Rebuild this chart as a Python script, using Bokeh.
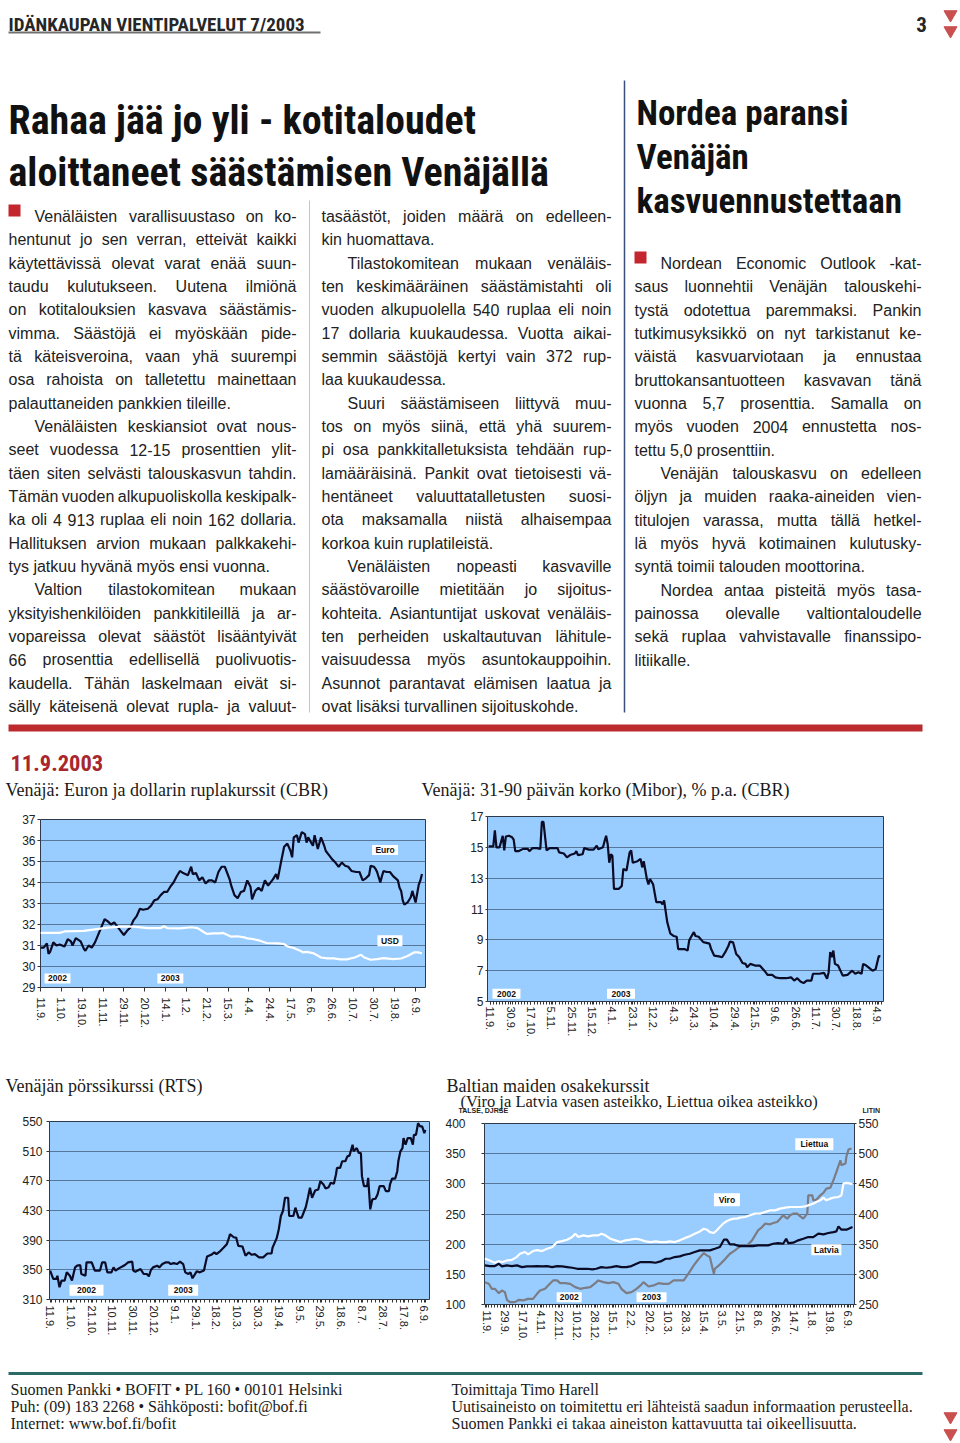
from bokeh.plotting import figure
from bokeh.models import Range1d, LinearAxis, FixedTicker, ColumnDataSource
from bokeh.layouts import column, row
from bokeh.embed import file_html
from bokeh.resources import INLINE
from bokeh.core.properties import value

# ======================= DATA =======================
c1_tick_labels = ["11.9.", "1.10.", "19.10.", "11.11.", "29.11.", "20.12.", "14.1.", "1.2.", "21.2.",
                  "15.3.", "4.4.", "24.4.", "17.5.", "6.6.", "26.6.", "10.7.", "30.7.", "19.8.", "6.9."]
c1_yticks = [29, 30, 31, 32, 33, 34, 35, 36, 37]
euro_day = [0, 2, 4, 5, 6, 8, 10, 12, 15, 17,
            19, 20, 22, 25, 27, 28, 30, 32, 34, 37,
            40, 42, 44, 46, 48, 50, 52, 54, 56, 58,
            60, 62, 64, 67, 69, 71, 73, 75, 77, 79,
            81, 83, 85, 87, 89, 92, 94, 95, 97, 99,
            101, 103, 105, 107, 109, 111, 113, 115, 118, 119,
            121, 123, 125, 127, 129, 131, 132, 134, 136, 138,
            140, 142, 145, 147, 148, 150, 152, 154, 156, 157,
            158, 160, 161, 163, 165, 166, 167, 170, 171, 173,
            175, 177, 178, 180, 182, 184, 186, 188, 190, 192,
            194, 197, 199, 201, 203, 205, 206, 208, 209, 210,
            212, 213, 214, 216, 218, 220, 223, 224, 225, 226,
            227, 229, 231, 232, 234, 236, 237, 238]
euro_rub = [30.9, 30.9, 31.1, 30.6, 30.7, 31.15, 31.0, 31.05, 30.95, 31.3,
            31.2, 31.0, 31.35, 31.2, 30.85, 30.75, 31.0, 30.9, 31.15, 31.7,
            32.25, 32.15, 32.0, 32.1, 31.9, 31.7, 31.5, 31.7, 31.85, 32.2,
            32.4, 32.75, 32.7, 32.75, 32.9, 33.15, 33.2, 33.4, 33.55, 33.55,
            33.8, 34.0, 34.3, 34.55, 34.45, 34.35, 34.75, 34.4, 34.45, 34.1,
            34.25, 33.95, 34.1, 34.1, 34.0, 34.5, 34.75, 34.75, 34.15, 33.85,
            33.4, 33.25, 33.55, 33.6, 34.1, 33.8, 33.2, 33.6, 33.75, 33.6,
            34.1, 33.85, 34.15, 34.4, 34.15, 34.95, 35.7, 35.85, 35.5, 35.2,
            36.15, 36.25, 35.9, 36.4, 36.3, 35.9, 36.15, 35.75, 36.25, 35.6,
            36.15, 35.75, 35.5, 35.3, 35.1, 34.95, 34.75, 34.95, 34.8, 34.75,
            34.55, 34.5, 34.5, 34.1, 34.2, 34.35, 34.8, 34.75, 34.65, 34.5,
            34.0, 34.3, 34.55, 34.5, 34.5, 34.3, 34.1, 33.75, 33.6, 33.15,
            32.95, 33.05, 33.3, 33.6, 33.05, 33.9, 34.1, 34.4]
usd_day = [0, 12, 15, 27, 35, 42, 50, 58, 67, 75,
           77, 79, 87, 94, 98, 102, 104, 108, 112, 114,
           119, 123, 127, 129, 133, 137, 141, 148, 152, 154,
           158, 162, 164, 166, 170, 172, 175, 179, 183, 187,
           191, 196, 200, 202, 206, 210, 214, 220, 225, 229,
           233, 236, 238]
usd_rub = [31.6, 31.6, 31.67, 31.7, 31.78, 31.85, 31.9, 31.9, 31.83, 31.83,
           31.92, 31.83, 31.82, 31.87, 31.83, 31.63, 31.55, 31.58, 31.58, 31.6,
           31.42, 31.44, 31.39, 31.34, 31.3, 31.23, 31.12, 31.1, 31.07, 30.96,
           30.88, 30.75, 30.67, 30.7, 30.64, 30.56, 30.43, 30.39, 30.39, 30.34,
           30.34, 30.43, 30.56, 30.43, 30.32, 30.35, 30.4, 30.35, 30.38, 30.5,
           30.67, 30.67, 30.62]
c1_tag_text = ["Euro", "USD", "2002", "2003"]
c1_tag_x = [215, 218, 10.6, 81]
c1_tag_y = [35.55, 31.23, 29.43, 29.43]

c2_tick_labels = ["11.9.", "30.9.", "17.10.", "5.11.", "25.11.", "15.12.", "4.1.", "23.1.", "12.2.", "4.3.",
                  "24.3.", "10.4.", "29.4.", "21.5.", "9.6.", "26.6.", "11.7.", "30.7.", "18.8.", "4.9."]
c2_yticks = [5, 7, 9, 11, 13, 15, 17]
mibor_day = [-1, 2, 3, 4, 6, 8, 9, 10, 12, 14,
             15, 16, 18, 21, 24, 25, 27, 30, 32, 33,
             34, 36, 38, 43, 44, 47, 49, 51, 54, 55,
             56, 59, 60, 63, 66, 68, 69, 72, 73, 74,
             75, 76, 77, 78, 79, 82, 84, 85, 87, 89,
             90, 91, 94, 96, 97, 98, 100, 101, 102, 104,
             106, 109, 110, 111, 113, 115, 117, 119, 120, 124,
             126, 127, 128, 130, 131, 133, 136, 140, 141, 143,
             146, 148, 150, 152, 153, 155, 157, 159, 161, 163,
             164, 166, 169, 172, 175, 177, 180, 182, 185, 189,
             192, 194, 196, 198, 200, 202, 205, 206, 210, 213,
             215, 216, 217, 218, 219, 220, 222, 225, 228, 231,
             233, 235, 237, 238, 240, 244, 246, 248, 249]
mibor_pct = [15.06, 15.06, 16.1, 15.0, 15.0, 15.75, 14.8, 15.7, 15.75, 15.65,
             15.5, 14.75, 14.75, 14.9, 14.9, 14.75, 14.95, 14.95, 14.9, 16.65,
             16.65, 14.8, 14.95, 14.95, 14.67, 14.6, 14.35, 14.5, 14.6, 14.75,
             14.5, 14.55, 14.95, 14.85, 14.85, 15.1, 14.88, 15.0, 15.4, 15.75,
             15.2, 14.0, 14.55, 14.45, 12.3, 12.3, 12.5, 13.6, 13.5, 14.67,
             14.8, 14.0, 14.1, 14.25, 13.7, 14.1, 12.95, 12.6, 12.95, 12.6,
             11.45, 11.45, 11.3, 11.55, 10.15, 9.4, 9.25, 9.2, 8.4, 8.4,
             8.3, 8.95, 9.15, 9.5, 9.25, 9.2, 8.85, 8.75, 8.4, 7.97,
             7.93, 7.87, 8.2, 8.6, 8.88, 8.84, 8.08, 7.87, 7.5, 7.44,
             7.22, 7.44, 7.33, 7.33, 7.0, 6.73, 6.73, 6.57, 6.51, 6.51,
             6.57, 6.36, 6.51, 6.3, 6.19, 6.36, 6.36, 6.8, 6.8, 6.86,
             6.47, 6.9, 8.2, 7.87, 8.3, 7.44, 7.33, 6.68, 6.73, 7.0,
             6.8, 6.9, 6.8, 7.44, 7.33, 7.0, 7.1, 7.95, 7.93]
c2_tag_text = ["2002", "2003"]
c2_tag_x = [10.4, 83.5]
c2_tag_y = [5.5, 5.5]

c3_tick_labels = ["11.9.", "1.10.", "21.10.", "10.11.", "30.11.", "20.12.", "9.1.", "29.1.", "18.2.", "10.3.",
                  "30.3.", "19.4.", "9.5.", "29.5.", "18.6.", "8.7.", "28.7.", "17.8.", "6.9."]
c3_yticks = [310, 350, 390, 430, 470, 510, 550]
rts_day = [0, 3, 6, 7, 9, 11, 14, 16, 19, 21,
           24, 26, 29, 30, 34, 35, 40, 43, 48, 50,
           53, 55, 59, 61, 63, 66, 69, 72, 75, 79,
           80, 82, 87, 90, 93, 95, 97, 99, 103, 105,
           108, 111, 114, 116, 119, 122, 125, 128, 130, 133,
           135, 137, 141, 144, 148, 149, 151, 155, 158, 160,
           164, 167, 170, 172, 173, 177, 179, 181, 185, 188,
           191, 194, 197, 201, 205, 209, 213, 214, 218, 220,
           222, 224, 226, 229, 230, 234, 236, 239, 242, 246,
           248, 250, 252, 255, 258, 260, 263, 265, 268, 270,
           273, 275, 276, 279, 281, 284, 286, 288, 291, 292,
           295, 297, 299, 300, 302, 305, 306, 308, 310, 313,
           315, 317, 321, 323, 326, 327, 329, 332, 334, 335,
           337, 339, 340, 342, 344, 347, 349, 350, 352, 354,
           356, 358, 360, 361]
rts_index = [349, 337.7, 337.7, 342, 326.5, 335.5, 335.5, 346.6, 342, 335.5,
             353.3, 355.6, 356.5, 344.4, 342, 360, 360, 349, 349, 360,
             360, 346.6, 346.6, 353.3, 349, 352, 354.2, 356.5, 360, 361,
             349, 347.5, 351, 344.4, 344.4, 341.3, 349.8, 353.3, 355.6, 353.3,
             357.8, 360, 360, 357.8, 359, 357.8, 361, 357.8, 346.6, 344.4,
             346.6, 338.6, 348, 346.6, 349, 355.6, 368, 370.3, 373.5, 371.2,
             375.7, 380, 384.6, 392.7, 398, 393.6, 393.6, 382.4, 381.5, 369,
             373.5, 370.3, 371.2, 366.8, 366.8, 372, 372, 380, 392.7, 404.7,
             422.6, 429.3, 447.2, 447.2, 422.6, 422.6, 433.8, 420.4, 420.4, 434.7,
             447.2, 460.6, 447.2, 457, 458.4, 469.6, 465.1, 459.7, 461.5, 467.3,
             466, 478.5, 487.4, 487.4, 496.4, 496.4, 503, 504, 518.7, 509.8,
             514.2, 507.5, 507.5, 476.3, 462.8, 462.8, 474, 431.6, 445, 445.9,
             451.7, 462.8, 462.8, 456.1, 456.1, 465.1, 473.1, 473.1, 483, 496.4,
             509.8, 514.2, 527.6, 518.7, 527.6, 527.6, 518.7, 532.1, 532.1, 547.8,
             543.3, 543.3, 534.4, 538.8]
c3_tag_text = ["2002", "2003"]
c3_tag_x = [35, 128]
c3_tag_y = [322.5, 322.5]

c4_tick_labels = ["11.9.", "29.9.", "17.10.", "4.11.", "22.11.", "10.12.", "28.12.", "15.1.", "2.2.", "20.2.",
                  "10.3.", "28.3.", "15.4.", "3.5.", "21.5.", "8.6.", "26.6.", "14.7.", "1.8.", "19.8.", "6.9."]
c4_left_ticks = [100, 150, 200, 250, 300, 350, 400]
c4_right_ticks = [250, 300, 350, 400, 450, 500, 550]
viro_day = [-2, 3, 8, 12, 15, 20, 25, 30, 33, 38,
            41, 46, 50, 55, 60, 65, 70, 75, 80, 85,
            88, 91, 96, 101, 106, 111, 114, 118, 123, 128,
            133, 138, 143, 148, 153, 158, 163, 168, 173, 178,
            182, 187, 192, 197, 202, 207, 211, 216, 219, 222,
            226, 229, 232, 236, 239, 242, 246, 249, 252, 257,
            262, 267, 272, 277, 282, 287, 292, 297, 302, 307,
            312, 317, 322, 325, 328, 332, 335, 338, 342, 345,
            350, 353, 355, 358, 362, 364]
viro_val = [176, 173, 169, 172, 170, 173, 174, 179, 184, 187,
            183, 188.6, 190, 188.6, 192.4, 195, 203.5, 205, 207.4, 212,
            217.4, 212, 214.6, 213, 214.6, 214.6, 217.4, 214.6, 209, 206.3,
            203.5, 206.3, 207.4, 209, 207.4, 204.6, 203.5, 204.6, 203.5, 203.5,
            204.6, 203.5, 206.3, 210, 213, 217.4, 220, 225.6, 224, 220,
            218.5, 223, 228.4, 235, 238.4, 240.6, 242.3, 242.3, 244, 245,
            247.8, 250.6, 250.6, 253.3, 256, 256, 258.9, 260.5, 261.6, 261.6,
            261.6, 262.7, 265.5, 267.2, 270, 272.7, 277.1, 272.7, 275.5, 277.1,
            278.2, 281, 300.4, 301.5, 300.4, 299.3]
latvia_day = [-2, 3, 8, 12, 15, 20, 25, 30, 35, 40,
              45, 50, 55, 60, 65, 70, 75, 80, 85, 90,
              95, 100, 105, 109, 114, 119, 124, 129, 134, 139,
              144, 149, 153, 158, 163, 168, 173, 178, 182, 187,
              192, 197, 202, 207, 212, 217, 222, 227, 232, 236,
              239, 242, 246, 251, 255, 260, 265, 270, 275, 280,
              285, 290, 295, 298, 300, 305, 310, 315, 320, 325,
              330, 335, 340, 345, 348, 350, 353, 358, 364]
latvia_val = [164.8, 163.7, 163.7, 167.5, 163.1, 164.8, 163.7, 164.8, 162, 163.1,
              163.1, 163.7, 163.1, 163.7, 162, 163.7, 163.1, 162, 160.9, 159.2,
              159.2, 159.2, 158.1, 159.2, 162, 160.9, 162, 163.7, 162, 162,
              163.7, 167.5, 170.3, 170.3, 170.3, 169.2, 171.4, 175.8, 175.8, 178.6,
              179.7, 182.5, 184.1, 186.9, 189.7, 189.7, 189.7, 192.4, 195.2, 207.4,
              207.4, 199.6, 199.6, 196.9, 196.9, 196.9, 196.9, 198, 198, 198,
              200.7, 201.8, 200.7, 209, 201.8, 202.4, 206.3, 209, 211.8, 211.8,
              217.4, 216.2, 218.5, 220, 221.2, 229.5, 224, 224, 228.4]
liettua_day = [-2, 2, 5, 8, 12, 15, 18, 20, 23, 28,
               32, 36, 41, 46, 50, 53, 58, 61, 66, 70,
               73, 78, 83, 88, 93, 98, 103, 108, 111, 116,
               121, 126, 131, 134, 139, 144, 149, 153, 156, 161,
               166, 171, 176, 181, 186, 191, 196, 201, 206, 211,
               216, 219, 222, 226, 227, 231, 236, 239, 242, 247,
               251, 254, 257, 260, 264, 267, 270, 274, 277, 282,
               285, 289, 292, 295, 299, 302, 305, 309, 312, 315,
               319, 320, 324, 325, 328, 332, 335, 338, 342, 345,
               348, 352, 353, 357, 358, 360, 363]
liettua_val = [287, 284.3, 276, 276, 268.8, 273.3, 270.5, 257.8, 253.9, 253.9,
               257.8, 256.7, 259.4, 259.4, 267.7, 273.3, 276, 281.6, 289.9, 289.9,
               285.4, 285.4, 284.3, 278.8, 276, 277.7, 278.8, 285.4, 289.9, 287.1,
               285.4, 287.1, 284.3, 276, 268.8, 270.5, 276, 281.6, 287.1, 279.9,
               281.6, 285.4, 284.3, 284.3, 289.9, 289.9, 289.9, 302, 314.8, 325.8,
               335.2, 331.4, 328.6, 300.9, 309.2, 314.8, 323.1, 328.6, 334.1, 339.7,
               345.2, 347.9, 346.9, 349.6, 356.3, 364.6, 372.9, 378.4, 384, 382.9,
               385.1, 386.8, 392.3, 397.8, 392.3, 397.8, 400.6, 400.6, 396.1, 392.3,
               400.6, 431, 431, 422.7, 423.8, 431, 434.9, 442, 443.7, 455.9,
               469.7, 489.1, 480.8, 483.6, 495.8, 506.8, 508.5]
c4_tag_text = ["Liettua", "Viro", "Latvia", "2002", "2003"]
c4_tag_x = [326, 239, 338, 82, 164]
c4_tag_y = [365.7, 273.8, 190.8, 112, 112]

# ======================= PAGE TEXT =======================
header_text = "IDÄNKAUPAN VIENTIPALVELUT 7/2003"
page_number = "3"
headline = ["Rahaa jää jo yli - kotitaloudet", "aloittaneet säästämisen Venäjällä"]
side_headline = ["Nordea paransi", "Venäjän", "kasvuennustettaan"]
date_text = "11.9.2003"
col1 = ["Venäläisten varallisuustaso on ko-",
        "hentunut jo sen verran, etteivät kaikki",
        "käytettävissä olevat varat enää suun-",
        "taudu kulutukseen. Uutena ilmiönä",
        "on kotitalouksien kasvava säästämis-",
        "vimma. Säästöjä ei myöskään pide-",
        "tä käteisveroina, vaan yhä suurempi",
        "osa rahoista on talletettu mainettaan",
        "palauttaneiden pankkien tileille.",
        "Venäläisten keskiansiot ovat nous-",
        "seet vuodessa 12-15 prosenttien ylit-",
        "täen siten selvästi talouskasvun tahdin.",
        "Tämän vuoden alkupuoliskolla keskipalk-",
        "ka oli 4 913 ruplaa eli noin 162 dollaria.",
        "Hallituksen arvion mukaan palkkakehi-",
        "tys jatkuu hyvänä myös ensi vuonna.",
        "Valtion tilastokomitean mukaan",
        "yksityishenkilöiden pankkitileillä ja ar-",
        "vopareissa olevat säästöt lisääntyivät",
        "66 prosenttia edellisellä puolivuotis-",
        "kaudella. Tähän laskelmaan eivät si-",
        "sälly käteisenä olevat rupla- ja valuut-"]
col2 = ["tasäästöt, joiden määrä on edelleen-",
        "kin huomattava.",
        "Tilastokomitean mukaan venäläis-",
        "ten keskimääräinen säästämistahti oli",
        "vuoden alkupuolella 540 ruplaa eli noin",
        "17 dollaria kuukaudessa. Vuotta aikai-",
        "semmin säästöjä kertyi vain 372 rup-",
        "laa kuukaudessa.",
        "Suuri säästämiseen liittyvä muu-",
        "tos on myös siinä, että yhä suurem-",
        "pi osa pankkitalletuksista tehdään rup-",
        "lamääräisinä. Pankit ovat tietoisesti vä-",
        "hentäneet valuuttatalletusten suosi-",
        "ota maksamalla niistä alhaisempaa",
        "korkoa kuin ruplatileistä.",
        "Venäläisten nopeasti kasvaville",
        "säästövaroille mietitään jo sijoitus-",
        "kohteita. Asiantuntijat uskovat venäläis-",
        "ten perheiden uskaltautuvan lähitule-",
        "vaisuudessa myös asuntokauppoihin.",
        "Asunnot parantavat elämisen laatua ja",
        "ovat lisäksi turvallinen sijoituskohde."]
col3 = ["Nordean Economic Outlook -kat-",
        "saus luonnehtii Venäjän talouskehi-",
        "tystä odotettua paremmaksi. Pankin",
        "tutkimusyksikkö on nyt tarkistanut ke-",
        "väistä kasvuarviotaan ja ennustaa",
        "bruttokansantuotteen kasvavan tänä",
        "vuonna 5,7 prosenttia. Samalla on",
        "myös vuoden 2004 ennustetta nos-",
        "tettu 5,0 prosenttiin.",
        "Venäjän talouskasvu on edelleen",
        "öljyn ja muiden raaka-aineiden vien-",
        "titulojen varassa, mutta tällä hetkel-",
        "lä myös hyvä kotimainen kulutusky-",
        "syntä toimii talouden moottorina.",
        "Nordea antaa pisteitä myös tasa-",
        "painossa olevalle valtiontaloudelle",
        "sekä ruplaa vahvistavalle finanssipo-",
        "litiikalle."]
chart_titles_top = ["Venäjä: Euron ja dollarin ruplakurssit  (CBR)",
                    "Venäjä: 31-90 päivän korko (Mibor), % p.a. (CBR)"]
chart_titles_bottom = ["Venäjän pörssikurssi (RTS)", "Baltian maiden osakekurssit",
                       "(Viro ja Latvia vasen asteikko, Liettua oikea asteikko)"]
axis_notes = ["TALSE, DJRSE", "LITIN"]
footer_left = ["Suomen Pankki • BOFIT • PL 160 • 00101 Helsinki",
               "Puh: (09) 183 2268 • Sähköposti: bofit@bof.fi",
               "Internet: www.bof.fi/bofit"]
footer_right = ["Toimittaja Timo Harell",
                "Uutisaineisto on toimitettu eri lähteistä saadun informaation perusteella.",
                "Suomen Pankki ei takaa aineiston kattavuutta tai oikeellisuutta."]

# ======================= STYLE =======================
SANS = "Liberation Sans"
SERIF = "Liberation Serif"
COND = "Roboto Condensed"
INK = "#222222"
RED = "#c4262e"
TRI = "#c9504f"
BG = "#99ccff"
GRID = "#56769a"
FRAME = "#2e3a4c"
LINE_H = 23.33
INDENT = 26

CHAR_W = {}
for chars, wdt in [(" !,./:;I[]\\ft", 278), ("ijl", 222), ("()-r", 333), ("cksvxyzJ", 500),
                   ("abdeghnopqu0123456789?$#_Lääööåüé", 556), ("+<=>", 584), ("FTZ", 611),
                   ("ABEKPSVXYÄ", 667), ("CDHNRUw", 722), ("GOQÖ", 778), ("Mm", 833),
                   ("%", 889), ("W", 944), ("@", 1015), ("'", 191), ('"', 355), ("•", 350)]:
    for ch in chars:
        CHAR_W[ch] = wdt


def tw(s, size):
    return sum(CHAR_W.get(c, 556) for c in s) * size / 1000.0


def page_fig(x0, y0, w, h):
    p = figure(width=w, height=h, x_range=Range1d(x0, x0 + w), y_range=Range1d(y0 + h, y0),
               x_axis_type=None, y_axis_type=None, output_backend="svg",
               toolbar_location=None, min_border=0, title=None)
    p.outline_line_color = None
    p.background_fill_color = "white"
    p.border_fill_color = "white"
    return p


def put_text(p, xs, ys, texts, size, font=SANS, style="normal", color=INK,
             align="left", baseline="alphabetic"):
    src = ColumnDataSource(dict(x=list(xs), y=list(ys), t=list(texts)))
    p.text(x="x", y="y", text="t", source=src, text_font=value(font),
           text_font_size=f"{size}px", text_font_style=style, text_color=color,
           text_align=align, text_baseline=baseline)


def justified(p, lines, x_left, x_right, indented, loose, y0, size=16):
    xs, ys, ts, fs = [], [], [], []
    sp1 = tw(" ", 1.0)
    for i, line in enumerate(lines):
        start = x_left + (INDENT if i in indented else 0)
        avail = x_right - start
        words = line.split()
        nat1 = sum(tw(w, 1.0) for w in words)
        n = len(words)
        f = size
        if i in loose or n == 1:
            gap = sp1 * f
        else:
            gap = (avail - nat1 * f) / (n - 1)
            if gap < 0.55 * sp1 * f:
                f = avail / (nat1 + 0.55 * sp1 * (n - 1))
                gap = 0.55 * sp1 * f
        x = start
        for w in words:
            xs.append(x)
            ys.append(y0 + LINE_H * i)
            ts.append(w)
            fs.append(f"{f:.2f}px")
            x += tw(w, f) + gap
    src = ColumnDataSource(dict(x=xs, y=ys, t=ts, fs=fs))
    p.text(x="x", y="y", text="t", source=src, text_font=value(SANS), text_font_size="fs",
           text_color=INK, text_align="left", text_baseline="alphabetic")


# ======================= TOP PAGE PART =======================
top = page_fig(0, 0, 960, 800)
put_text(top, [8], [24], [header_text], 19, font=COND, style="bold", color="#262626")
top.segment(x0=[8], y0=[32], x1=[320], y1=[32], line_color="#707070", line_width=2)
put_text(top, [921], [24], [page_number], 21, font=COND, style="bold", color="#262626", align="center")
top.scatter(x=[950, 950], y=[14, 30], marker="inverted_triangle", size=13, fill_color=TRI, line_color=TRI)

put_text(top, [8, 8], [120, 172], headline, 40, font=COND, style="bold", color="#111111")
put_text(top, [636, 636, 636], [113, 157, 201], side_headline, 35, font=COND, style="bold", color="#111111")

top.rect(x=[14, 640], y=[210, 257], width=12, height=12, fill_color=RED, line_color=None)
justified(top, col1, 8, 296, {0, 9, 16}, {8, 15}, 216)
justified(top, col2, 321, 611, {2, 8, 15}, {1, 7, 14, 21}, 216)
justified(top, col3, 634, 921, {0, 9, 14}, {8, 13, 17}, 263)

top.segment(x0=[309], y0=[200], x1=[309], y1=[712], line_color="#c4c4c4", line_width=1)
top.segment(x0=[624], y0=[80], x1=[624], y1=[712], line_color="#3a4f7c", line_width=1.5)
top.quad(left=[8], right=[922], top=[724], bottom=[731], fill_color="#bd2a2e", line_color=None)
put_text(top, [10], [762], [date_text], 22.5, font=COND, style="bold", color="#a8262c")
put_text(top, [5, 421], [789, 789], chart_titles_top, 18, font=SERIF, color="#1a1a1a")


# ======================= CHARTS =======================
def chart(x0, y0, w, h, fl, fr, ft, fb, xr, yr, labels, step, yticks, minor_step,
          ytick_out, ystand, xtick_out, xstand):
    p = figure(width=w, height=h, x_range=Range1d(*xr), y_range=Range1d(*yr),
               output_backend="svg", toolbar_location=None, title=None,
               min_border_left=fl - x0, min_border_right=x0 + w - fr,
               min_border_top=ft - y0, min_border_bottom=y0 + h - fb)
    p.background_fill_color = BG
    p.border_fill_color = "white"
    p.outline_line_color = FRAME
    p.outline_line_width = 1
    p.xgrid.visible = False
    p.ygrid.grid_line_color = GRID
    p.ygrid.grid_line_width = 1
    xt = [i * step for i in range(len(labels))]
    minor = []
    if minor_step:
        v = int(xr[0]) + 1
        while v < xr[1]:
            minor.append(v)
            v += minor_step
    p.xaxis.ticker = FixedTicker(ticks=xt, minor_ticks=minor)
    p.xaxis.major_label_overrides = {t: s for t, s in zip(xt, labels)}
    p.xaxis.major_label_orientation = "vertical"
    p.xaxis.major_label_text_font_size = "11px"
    p.xaxis.major_tick_in = 0
    p.xaxis.major_tick_out = xtick_out
    p.xaxis.minor_tick_in = 0
    p.xaxis.minor_tick_out = 3 if minor_step else 0
    p.xaxis.major_label_standoff = xstand
    p.yaxis.ticker = FixedTicker(ticks=yticks, minor_ticks=[])
    p.yaxis.major_label_text_font_size = "12px"
    p.yaxis.major_tick_in = 0
    p.yaxis.major_tick_out = ytick_out
    p.yaxis.major_label_standoff = ystand
    for ax in p.axis:
        ax.axis_line_color = None
        ax.major_tick_line_color = "#333333"
        ax.minor_tick_line_color = "#333333"
        ax.major_label_text_font = SANS
        ax.major_label_text_color = "#222222"
    return p


def tags(p, xs, ys, texts, ws, hs):
    src = ColumnDataSource(dict(x=xs, y=ys, t=texts, w=ws, h=hs))
    p.rect(x="x", y="y", width="w", height="h", width_units="screen", height_units="screen",
           source=src, fill_color="white", line_color=None)
    p.text(x="x", y="y", text="t", source=src, text_font=value(SANS), text_font_size="8.5px",
           text_font_style="bold", text_color="#111111", text_align="center", text_baseline="middle")


c1 = chart(0, 800, 440, 265, 40, 425, 819, 987, (0, 240.2), (29, 37), c1_tick_labels, 13,
           c1_yticks, None, 3, 2, 4, 6)
c1.line(euro_day, euro_rub, line_color="#0b0b26", line_width=2.2)
c1.line(usd_day, usd_rub, line_color="white", line_width=2.2)
tags(c1, c1_tag_x, c1_tag_y, c1_tag_text, [26, 25, 26, 26], [10, 11, 10, 10])

c2 = chart(440, 800, 520, 265, 487, 883, 816, 1001, (-1.7, 251), (5, 17), c2_tick_labels, 13,
           c2_yticks, 2, 2, 2, 3, 2)
c2.line(mibor_day, mibor_pct, line_color="#0b0b26", line_width=2.2)
tags(c2, c2_tag_x, c2_tag_y, c2_tag_text, [28, 28], [10, 10])

strip = page_fig(0, 1065, 960, 49)
put_text(strip, [5, 446], [1085, 1085], chart_titles_bottom[:2], 18, font=SERIF, color="#1a1a1a")
put_text(strip, [460], [1101], chart_titles_bottom[2:], 16.5, font=SERIF, color="#1a1a1a")
put_text(strip, [458, 862], [1110, 1110], axis_notes, 7, style="bold", color="#222222")

c3 = chart(0, 1114, 440, 256, 49, 429, 1121, 1299, (-0.6, 365), (310, 550), c3_tick_labels, 20,
           c3_yticks, 4, 3, 4, 3, 3)
c3.line(rts_day, rts_index, line_color="#0b0b26", line_width=2.2)
tags(c3, c3_tag_x, c3_tag_y, c3_tag_text, [34, 30], [11, 11])

c4 = chart(440, 1114, 520, 256, 484, 854, 1123, 1304, (-2.3, 366), (100, 400), c4_tick_labels, 18,
           c4_left_ticks, 3, 3, 16, 3, 3)
c4.extra_y_ranges = {"lit": Range1d(250, 550)}
rax = LinearAxis(y_range_name="lit", ticker=FixedTicker(ticks=c4_right_ticks, minor_ticks=[]))
rax.axis_line_color = None
rax.major_tick_in = 0
rax.major_tick_out = 2
rax.major_label_standoff = 2
rax.major_tick_line_color = "#333333"
rax.major_label_text_font = SANS
rax.major_label_text_font_size = "12px"
rax.major_label_text_color = "#222222"
c4.add_layout(rax, "right")
c4.line(liettua_day, liettua_val, y_range_name="lit", line_color="#7c7c84", line_width=2.2)
c4.line(viro_day, viro_val, line_color="white", line_width=2.2)
c4.line(latvia_day, latvia_val, line_color="#0b0b26", line_width=2.2)
tags(c4, c4_tag_x, c4_tag_y, c4_tag_text, [38, 26, 30, 25, 30], [12, 13, 11, 10, 10])

# ======================= FOOTER =======================
foot = page_fig(0, 1370, 960, 73)
foot.segment(x0=[8], y0=[1373], x1=[922], y1=[1373], line_color="#2a6b68", line_width=3)
put_text(foot, [10, 10, 10], [1389, 1406, 1423], footer_left, 16, font=SERIF, color="#1a1a1a")
put_text(foot, [451, 451, 451], [1389, 1406, 1423], footer_right, 16, font=SERIF, color="#1a1a1a")
foot.scatter(x=[950, 950], y=[1416, 1433], marker="inverted_triangle", size=13, fill_color=TRI, line_color=TRI)

layout = column(top,
                row(column(c1), column(c2)),
                strip,
                row(column(c3), column(c4)),
                foot)
open("out.html", "w").write(file_html(layout, INLINE))
